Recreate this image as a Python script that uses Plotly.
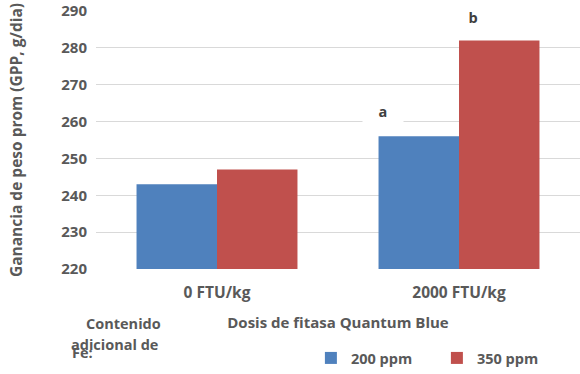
import plotly.graph_objects as go

categories = ["0 FTU/kg", "2000 FTU/kg"]
series_names = ["200 ppm", "350 ppm"]
values_200 = [243, 256]
values_350 = [247, 282]
y_ticks = [220, 230, 240, 250, 260, 270, 280, 290]
sig_labels = ["a", "b"]

FONT = "Open Sans"
GRAY = "#595959"

fig = go.Figure()
fig.add_trace(go.Bar(x=categories, y=values_200, name=series_names[0],
                     marker=dict(color="#4f81bd", line=dict(width=0))))
fig.add_trace(go.Bar(x=categories, y=values_350, name=series_names[1],
                     marker=dict(color="#c0504d", line=dict(width=0))))

fig.update_layout(
    width=580, height=374,
    margin=dict(l=96, r=0, t=11, b=105),
    paper_bgcolor="white", plot_bgcolor="white",
    barmode="group", bargap=0.335, bargroupgap=0,
    font=dict(family=FONT, color=GRAY, size=14),
    showlegend=True,
    legend=dict(orientation="h", x=0.444, y=-0.345, xanchor="left", yanchor="middle",
                font=dict(family=FONT, size=14.5, color=GRAY, weight="bold"),
                itemwidth=30, entrywidth=81, tracegroupgap=0, bgcolor="rgba(0,0,0,0)"),
    xaxis=dict(showgrid=False, showline=False, zeroline=False, ticks="",
               automargin=False, ticklabelstandoff=12,
               tickfont=dict(family=FONT, size=15.5, color=GRAY, weight="bold"),
               title=dict(text="Dosis de fitasa Quantum Blue", standoff=15,
                          font=dict(family=FONT, size=15, color=GRAY, weight="bold"))),
    yaxis=dict(range=[220, 290], tickvals=y_ticks, showgrid=True, gridcolor="#d9d9d9",
               gridwidth=1, zeroline=False, showline=False, ticks="",
               automargin=False, ticklabelstandoff=8,
               tickfont=dict(family=FONT, size=15, color=GRAY, weight="bold"),
               title=dict(text="Ganancia de peso prom (GPP, g/dia)", standoff=34,
                          font=dict(family=FONT, size=15.5, color=GRAY, weight="bold"))),
)

# significance letters with white boxes over gridlines
fig.add_annotation(x=categories[1], y=262.9, xref="x", yref="y", xshift=-76,
                   text=sig_labels[0], showarrow=False, bgcolor="white",
                   width=38, height=26,
                   font=dict(family=FONT, size=14.5, color="#404040", weight="bold"))
fig.add_annotation(x=categories[1], y=288.4, xref="x", yref="y", xshift=14,
                   text=sig_labels[1], showarrow=False, bgcolor="white",
                   width=36, height=28,
                   font=dict(family=FONT, size=14.5, color="#404040", weight="bold"))

# side note (overlapping lines as in the original)
notes = [("Contenido", 123, 323, "center"), ("adicional de", 114, 344, "center"), ("Fe:", 70, 352, "left")]
for txt, px, py, anc in notes:
    fig.add_annotation(x=(px - 96) / 484, y=(269 - py) / 258, xref="paper", yref="paper",
                       text=txt, showarrow=False, xanchor=anc, yanchor="middle",
                       font=dict(family=FONT, size=14.5, color=GRAY, weight="bold"))

fig.write_html("out.html", config={"displayModeBar": False},
               post_script="document.body.style.margin='0';")
